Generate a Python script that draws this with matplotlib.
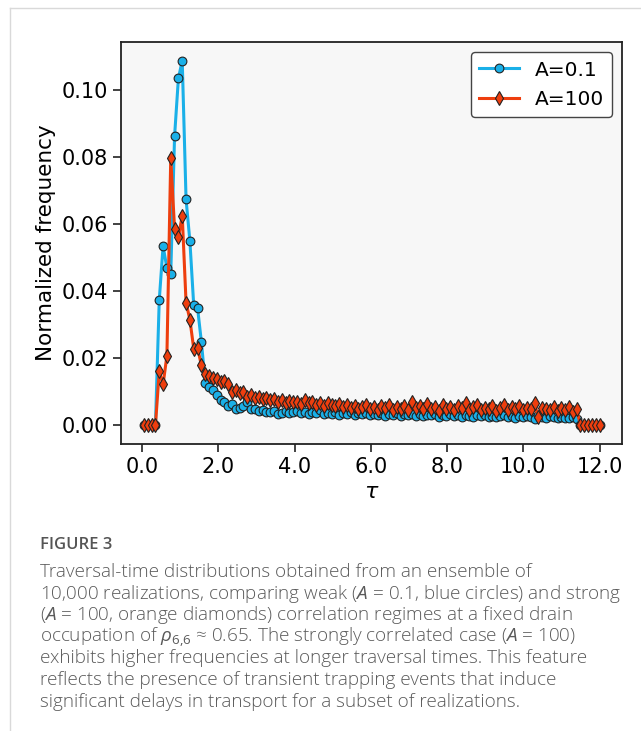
import numpy as np
import matplotlib
matplotlib.use('Agg')
import matplotlib.pyplot as plt
from matplotlib.lines import Line2D
from matplotlib.ticker import FormatStrFormatter

# traversal-time bin centres (tau)
tau = np.linspace(0.05, 12.0, 120)

# A = 0.1 (weak correlation)
freq_weak = [
    0, 0, 0, 0,
    0.0373, 0.0534, 0.0469, 0.0450, 0.0861, 0.1033, 0.1086, 0.0673, 0.0549, 0.0358,
    0.0350, 0.0249, 0.0127, 0.0116, 0.0107, 0.0092, 0.0077, 0.0071, 0.0057, 0.0063,
    0.0048, 0.0052, 0.0058, 0.0071, 0.0048, 0.0050, 0.0042, 0.0045, 0.0040, 0.0039,
    0.0044, 0.0033, 0.0038, 0.0042, 0.0036, 0.0040,
    0.0043, 0.0037, 0.0041, 0.0034, 0.0039, 0.0036, 0.0045, 0.0033, 0.0038, 0.0035,
    0.0040, 0.0032, 0.0037, 0.0034, 0.0039, 0.0031, 0.0036, 0.0033, 0.0038, 0.0030,
    0.0035, 0.0032, 0.0037, 0.0029, 0.0034, 0.0031, 0.0036, 0.0028, 0.0033, 0.0030,
    0.0035, 0.0029, 0.0033, 0.0027, 0.0032, 0.0030, 0.0034, 0.0026, 0.0031, 0.0029,
    0.0033, 0.0027, 0.0030, 0.0026, 0.0032, 0.0028, 0.0025, 0.0030, 0.0027, 0.0031,
    0.0026, 0.0029, 0.0024, 0.0028, 0.0031, 0.0025, 0.0027, 0.0023, 0.0029, 0.0026,
    0.0028, 0.0024, 0.0018, 0.0030, 0.0026, 0.0023, 0.0027, 0.0024, 0.0022, 0.0026,
    0.0023, 0.0021, 0.0024, 0.0019,
    0, 0, 0, 0, 0, 0,
]

# A = 100 (strong correlation)
freq_strong = [
    0, 0, 0, 0,
    0.0161, 0.0122, 0.0208, 0.0795, 0.0586, 0.0560, 0.0625, 0.0366, 0.0315, 0.0229,
    0.0232, 0.0179, 0.0152, 0.0146, 0.0140, 0.0137, 0.0128, 0.0132, 0.0122, 0.0101,
    0.0107, 0.0098, 0.0100, 0.0086, 0.0092, 0.0083, 0.0085, 0.0080, 0.0083, 0.0077,
    0.0079, 0.0071, 0.0076, 0.0068, 0.0072, 0.0070,
    0.0071, 0.0064, 0.0075, 0.0066, 0.0070, 0.0062, 0.0068, 0.0059, 0.0066, 0.0061,
    0.0057, 0.0063, 0.0055, 0.0060, 0.0052, 0.0058, 0.0050, 0.0056, 0.0061, 0.0049,
    0.0055, 0.0047, 0.0058, 0.0052, 0.0060, 0.0046, 0.0054, 0.0050, 0.0057, 0.0045,
    0.0071, 0.0052, 0.0059, 0.0048, 0.0063, 0.0050, 0.0056, 0.0044, 0.0061, 0.0049,
    0.0054, 0.0046, 0.0058, 0.0051, 0.0068, 0.0047, 0.0055, 0.0060, 0.0045, 0.0053,
    0.0049, 0.0057, 0.0044, 0.0052, 0.0062, 0.0047, 0.0055, 0.0050, 0.0058, 0.0046,
    0.0053, 0.0049, 0.0066, 0.0024, 0.0052, 0.0050, 0.0046, 0.0054, 0.0043, 0.0051,
    0.0047, 0.0055, 0.0040, 0.0049,
    0, 0, 0, 0, 0, 0,
]

caption_title = 'FIGURE 3'
caption_lines = [
    'Traversal-time distributions obtained from an ensemble of',
    r'10,000 realizations, comparing weak ($\mathit{A}$ = 0.1, blue circles) and strong',
    r'($\mathit{A}$ = 100, orange diamonds) correlation regimes at a fixed drain',
    r'occupation of $\rho_{6{,}6}$ ≈ 0.65. The strongly correlated case ($\mathit{A}$ = 100)',
    'exhibits higher frequencies at longer traversal times. This feature',
    'reflects the presence of transient trapping events that induce',
    'significant delays in transport for a subset of realizations.',
]

blue = '#1ab0e8'
red = '#ee3e0e'

plt.rcParams['mathtext.fontset'] = 'custom'
plt.rcParams['mathtext.rm'] = 'Open Sans'
plt.rcParams['mathtext.it'] = 'Open Sans:italic'

fig = plt.figure(figsize=(6.41, 7.31), dpi=100)
ax = fig.add_axes([0.189, 0.393, 0.782, 0.549])
ax.set_facecolor('#f7f7f7')

ax.plot(tau, freq_weak, '-o', color=blue, lw=2.2, ms=6.3, mfc=blue,
        mec='#222222', mew=0.8, label='A=0.1')
ax.plot(tau, freq_strong, '-d', color=red, lw=2.2, ms=6.8, mfc=red,
        mec='#222222', mew=0.8, label='A=100')

ax.set_xticks([0, 2, 4, 6, 8, 10, 12])
ax.set_yticks([0, 0.02, 0.04, 0.06, 0.08, 0.10])
ax.xaxis.set_major_formatter(FormatStrFormatter('%.1f'))
ax.yaxis.set_major_formatter(FormatStrFormatter('%.2f'))
ax.tick_params(labelsize=15, length=6, width=1.2, color='#222222')
for s in ax.spines.values():
    s.set_linewidth(1.3)
    s.set_color('#222222')
ax.set_xlabel(r'$\tau$', fontsize=16, family='DejaVu Sans', math_fontfamily='dejavusans')
ax.set_ylabel('Normalized frequency', fontsize=15.5)

leg = ax.legend(loc='upper right', fontsize=14.5, handlelength=2,
                edgecolor='#444444', fancybox=True, framealpha=1)
leg.get_frame().set_linewidth(1.0)

# panel border of the page
fig.add_artist(Line2D([0.016, 0.016], [0, 0.989], color='#d9d9d9', lw=1))
fig.add_artist(Line2D([0.016, 1.0], [0.989, 0.989], color='#d9d9d9', lw=1))

fig.text(0.062, 1 - 545 / 731, caption_title, fontsize=12, color='#555555',
         family=['Open Sans', 'DejaVu Sans'], weight='semibold', va='center')
y0 = 572
for k, line in enumerate(caption_lines):
    fig.text(0.062, 1 - (y0 + k * 21.6) / 731, line, fontsize=13.6,
             color='#5a5a5a', family=['Open Sans', 'DejaVu Sans'],
             weight='light', va='center')

fig.savefig('out.png', dpi=100)
